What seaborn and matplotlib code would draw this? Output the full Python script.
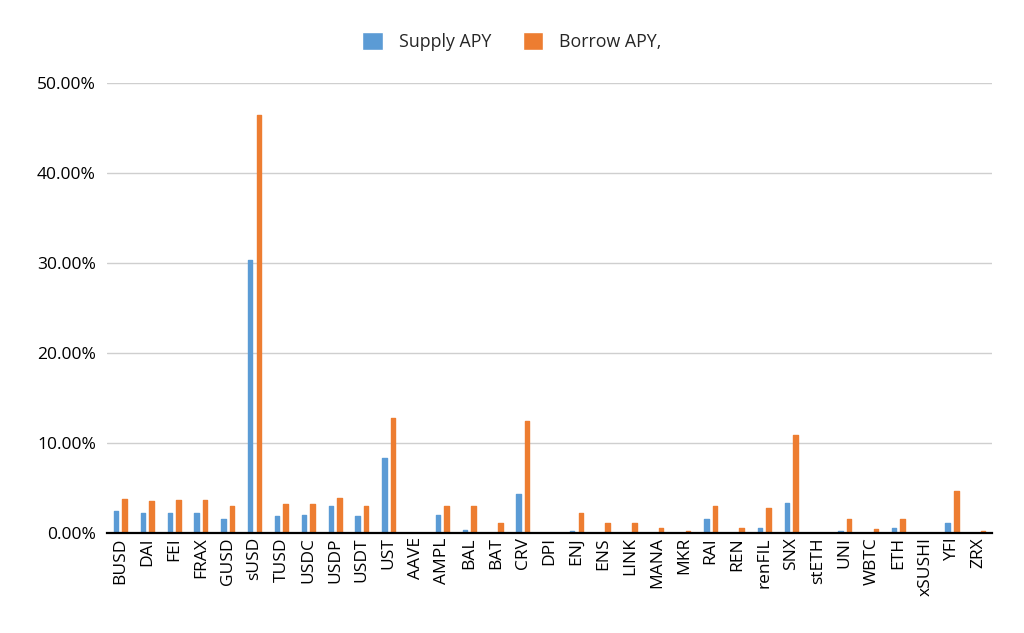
import matplotlib
matplotlib.use("Agg")
import matplotlib.patches as mpatches
import matplotlib.pyplot as plt
import pandas as pd
import seaborn as sns
from matplotlib.ticker import FuncFormatter, MultipleLocator

tokens = [
    "BUSD", "DAI", "FEI", "FRAX", "GUSD", "sUSD", "TUSD", "USDC", "USDP", "USDT",
    "UST", "AAVE", "AMPL", "BAL", "BAT", "CRV", "DPI", "ENJ", "ENS", "LINK",
    "MANA", "MKR", "RAI", "REN", "renFIL", "SNX", "stETH", "UNI", "WBTC", "ETH",
    "xSUSHI", "YFI", "ZRX",
]
supply_apy = [
    2.4, 2.2, 2.2, 2.2, 1.5, 30.3, 1.9, 2.0, 3.0, 1.9,
    8.3, 0.0, 2.0, 0.3, 0.0, 4.3, 0.0, 0.2, 0.0, 0.0,
    0.0, 0.0, 1.5, 0.0, 0.5, 3.3, 0.0, 0.2, 0.0, 0.5,
    0.0, 1.1, 0.0,
]
borrow_apy = [
    3.8, 3.5, 3.7, 3.7, 3.0, 46.4, 3.2, 3.2, 3.9, 3.0,
    12.8, 0.0, 3.0, 3.0, 1.1, 12.4, 0.0, 2.2, 1.1, 1.1,
    0.6, 0.2, 3.0, 0.6, 2.8, 10.9, 0.0, 1.5, 0.4, 1.5,
    0.0, 4.7, 0.2,
]
series_names = ["Supply APY", "Borrow APY,"]

blue = "#5B9BD5"
orange = "#ED7D31"


def main() -> None:
    df = pd.DataFrame({
        "token": tokens * 2,
        "apy": supply_apy + borrow_apy,
        "series": [series_names[0]] * len(tokens) + [series_names[1]] * len(tokens),
    })

    sns.set_style("white")
    plt.rcParams["font.family"] = ["Open Sans", "DejaVu Sans"]

    fig = plt.figure(figsize=(10.24, 6.33), dpi=100)
    ax = fig.add_axes([0.1045, 0.158, 0.8645, 0.711])

    sns.barplot(
        data=df, x="token", y="apy", hue="series",
        palette=[blue, orange], saturation=1, width=0.64, gap=0.48,
        ax=ax, zorder=2, legend=False,
    )

    # round the bar ends a little, like the original
    for bar in ax.patches:
        if bar.get_height() > 0:
            bar.set_edgecolor(bar.get_facecolor())
            bar.set_linewidth(1.0)
            bar.set_joinstyle("round")

    ax.set_ylim(0, 50)
    ax.set_xlim(-0.5, len(tokens) - 0.5)
    ax.yaxis.set_major_locator(MultipleLocator(10))
    ax.yaxis.set_major_formatter(FuncFormatter(lambda v, _: f"{v:.2f}%"))
    ax.grid(axis="y", color="#CFCFCF", linewidth=1.0, zorder=0)
    ax.set_axisbelow(True)

    for side in ["top", "right", "left"]:
        ax.spines[side].set_visible(False)
    ax.spines["bottom"].set_color("black")
    ax.spines["bottom"].set_linewidth(1.6)
    ax.spines["bottom"].set_zorder(3)

    ax.set_xlabel("")
    ax.set_ylabel("")
    ax.tick_params(axis="x", rotation=90, labelsize=12.5, length=0, pad=3, colors="black")
    ax.tick_params(axis="y", labelsize=12.5, length=0, pad=8, colors="black")

    handles = [mpatches.Patch(facecolor=blue, label=series_names[0]),
               mpatches.Patch(facecolor=orange, label=series_names[1])]
    ax.legend(
        handles=handles, loc="center", bbox_to_anchor=(0.5, 0.934),
        bbox_transform=fig.transFigure, ncol=2, frameon=False,
        fontsize=12.8, handlelength=1.15, handleheight=1.15,
        handletextpad=0.9, columnspacing=1.8,
    )

    fig.savefig("out.png", dpi=100)
    plt.close(fig)


if __name__ == "__main__":
    main()
